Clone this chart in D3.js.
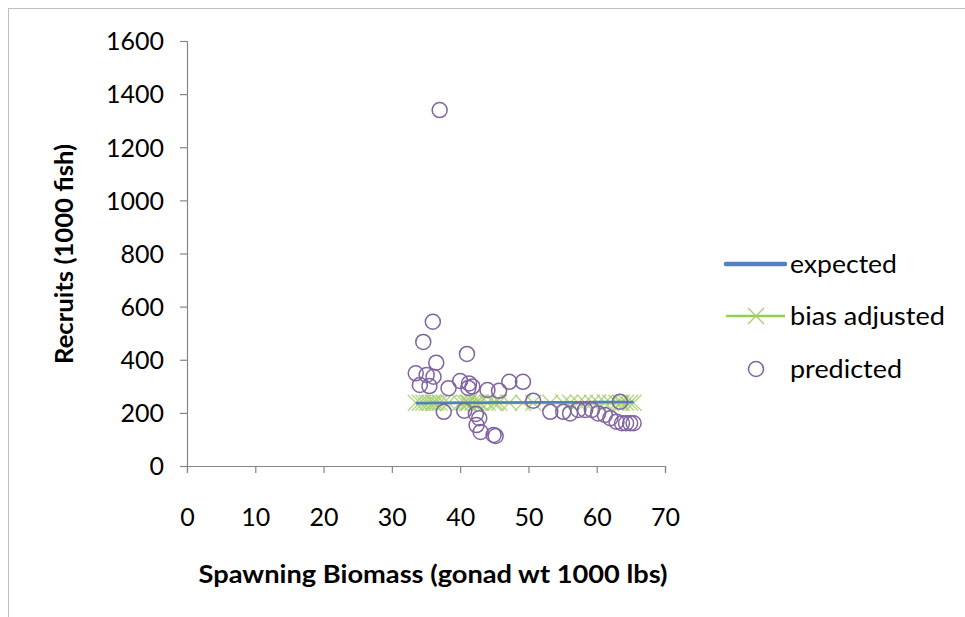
<!DOCTYPE html>
<html>
<head>
<meta charset="utf-8">
<script src="https://cdn.jsdelivr.net/npm/d3@7/dist/d3.min.js"></script>
<style>
  html, body { margin: 0; padding: 0; background: #fff; }
  svg { display: block; }
  text { font-family: Lato, "Noto Sans", sans-serif; fill: #000; }
</style>
</head>
<body>
<svg id="chart" width="965" height="617"></svg>
<script>
// Spawning biomass (gonad wt, 1000 lbs) for each year
const biomass = [33.5, 34.1, 34.6, 35.1, 35.5, 36.0, 36.1, 36.5, 37.0, 37.6,
                 38.3, 40.0, 40.6, 41.0, 41.2, 41.3, 41.8, 42.3, 42.4, 42.8,
                 43.0, 44.0, 44.9, 45.2, 45.7, 47.2, 49.2, 50.7, 53.2, 55.1,
                 56.1, 57.3, 58.3, 59.3, 60.2, 61.2, 62.0, 62.9, 63.4, 63.7,
                 64.3, 64.9, 65.4];
// Predicted recruits (1000 fish)
const predicted = [349, 305, 467, 343, 301, 543, 336, 389, 1340, 204,
                   293, 320, 208, 422, 294, 311, 299, 196, 154, 180,
                   128, 286, 117, 113, 283, 317, 317, 246, 204, 204,
                   198, 211, 211, 211, 198, 192, 180, 167, 242, 161,
                   161, 161, 161];
// Expected recruitment from the stock-recruit curve
const expected = [236, 236, 236, 236, 237, 237, 237, 237, 237, 237,
                  237, 238, 238, 238, 238, 238, 238, 238, 238, 238,
                  238, 238, 239, 239, 239, 239, 239, 240, 240, 240,
                  240, 240, 240, 241, 241, 241, 241, 241, 241, 241,
                  241, 241, 241];
// Bias-adjusted expected recruitment
const biasAdjusted = [238, 238, 238, 238, 238, 238, 238, 238, 238, 238,
                      238, 238, 238, 238, 238, 238, 238, 238, 238, 238,
                      238, 238, 238, 238, 238, 238, 238, 238, 238, 238,
                      238, 238, 238, 238, 238, 238, 238, 238, 238, 238,
                      238, 238, 238];
const xTicks = [0, 10, 20, 30, 40, 50, 60, 70];
const yTicks = [0, 200, 400, 600, 800, 1000, 1200, 1400, 1600];
const seriesNames = ["expected", "bias adjusted", "predicted"];

const colors = { expected: "#4f81bd", bias: "#92d050", biasMark: "#a4cf6e", pred: "#8064a2", axis: "#868686" };

const svg = d3.select("#chart");

// outer chart frame
svg.append("rect").attr("x", 8.5).attr("y", 8.5).attr("width", 1000).attr("height", 1000)
  .attr("fill", "#fff").attr("stroke", "#bfbfbf").attr("stroke-width", 1);

const x = d3.scaleLinear().domain([0, 70]).range([187, 665]);
const y = d3.scaleLinear().domain([0, 1600]).range([466, 41]);

// axes
const xAxis = d3.axisBottom(x).tickValues(xTicks).tickSize(7).tickPadding(44).tickFormat(d3.format("d"));
const yAxis = d3.axisLeft(y).tickValues(yTicks).tickSize(7).tickPadding(16).tickFormat(d3.format("d"));

const gx = svg.append("g").attr("transform", `translate(0,${y(0)})`).call(xAxis);
const gy = svg.append("g").attr("transform", `translate(${x(0)},0)`).call(yAxis);
[gx, gy].forEach(g => {
  g.select(".domain").attr("stroke", colors.axis).attr("stroke-width", 1.2);
  g.selectAll(".tick line").attr("stroke", colors.axis).attr("stroke-width", 1.2);
  g.selectAll(".tick text").style("font-size", "25px").attr("fill", "#000")
    .style("font-family", "Lato, 'Noto Sans', sans-serif");
});
gy.selectAll(".tick text").attr("dy", "0.35em");
gx.selectAll(".tick text").attr("dy", "0.35em").attr("y", 51);

// axis titles
svg.append("text").attr("x", 433).attr("y", 583).attr("text-anchor", "middle")
  .style("font-size", "25px").style("font-weight", "bold")
  .attr("textLength", 469).attr("lengthAdjust", "spacingAndGlyphs")
  .text("Spawning Biomass (gonad wt 1000 lbs)");
svg.append("text").attr("transform", "translate(73,254) rotate(-90)").attr("text-anchor", "middle")
  .style("font-size", "24px").style("font-weight", "bold")
  .attr("textLength", 220).attr("lengthAdjust", "spacingAndGlyphs")
  .text("Recruits (1000 fish)");

const idx = d3.range(biomass.length);

// bias-adjusted line with X markers
svg.append("path").datum(idx)
  .attr("d", d3.line().x(i => x(biomass[i])).y(i => y(biasAdjusted[i])))
  .attr("fill", "none").attr("stroke", colors.bias).attr("stroke-width", 3);
const xMark = (cx, cy, s) => `M${cx - s},${cy - s}L${cx + s},${cy + s}M${cx - s},${cy + s}L${cx + s},${cy - s}`;
svg.append("g").selectAll("path").data(idx).join("path")
  .attr("d", i => xMark(x(biomass[i]), y(biasAdjusted[i]), 8))
  .attr("fill", "none").attr("stroke", colors.biasMark).attr("stroke-width", 1.3).attr("opacity", 0.85);

// expected line
svg.append("path").datum(idx)
  .attr("d", d3.line().x(i => x(biomass[i])).y(i => y(expected[i])))
  .attr("fill", "none").attr("stroke", colors.expected).attr("stroke-width", 2.5);

// predicted points
svg.append("g").selectAll("circle").data(idx).join("circle")
  .attr("cx", i => x(biomass[i])).attr("cy", i => y(predicted[i])).attr("r", 7.5)
  .attr("fill", "none").attr("stroke", colors.pred).attr("stroke-width", 1.5);

// legend
const lg = svg.append("g");
const ly = [264, 316, 369];
lg.append("line").attr("x1", 726).attr("x2", 785).attr("y1", ly[0]).attr("y2", ly[0])
  .attr("stroke", colors.expected).attr("stroke-width", 4.5).attr("stroke-linecap", "round");
lg.append("line").attr("x1", 726).attr("x2", 785).attr("y1", ly[1]).attr("y2", ly[1])
  .attr("stroke", colors.bias).attr("stroke-width", 2.5);
lg.append("path").attr("d", xMark(756, ly[1], 8)).attr("fill", "none")
  .attr("stroke", colors.biasMark).attr("stroke-width", 1.3);
lg.append("circle").attr("cx", 756).attr("cy", ly[2]).attr("r", 7.5)
  .attr("fill", "none").attr("stroke", colors.pred).attr("stroke-width", 1.5);
const legendWidths = [107, 155, 112];
seriesNames.forEach((name, i) => {
  lg.append("text").attr("x", 790).attr("y", ly[i]).attr("dy", "0.35em")
    .style("font-size", "25px")
    .attr("textLength", legendWidths[i]).attr("lengthAdjust", "spacingAndGlyphs")
    .text(name);
});
</script>
</body>
</html>
